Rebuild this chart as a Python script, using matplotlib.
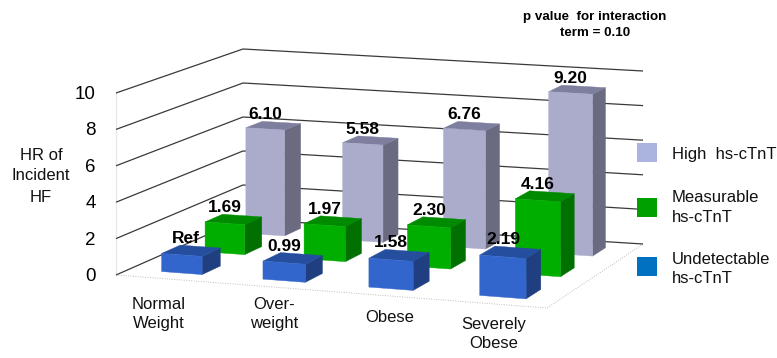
import numpy as np
import matplotlib
matplotlib.use("Agg")
import matplotlib.pyplot as plt
from matplotlib.patches import Polygon, Rectangle

plt.rcParams['font.family'] = ['Liberation Sans', 'DejaVu Sans']

categories = ["Normal\nWeight", "Over-\nweight", "Obese", "Severely\nObese"]
category_xy = [(159, 314), (274, 314), (390, 318), (494, 334)]
series_names = ["Undetectable\nhs-cTnT", "Measurable\nhs-cTnT", "High  hs-cTnT"]
undetectable = [1.00, 0.99, 1.58, 2.19]
measurable = [1.69, 1.97, 2.30, 4.16]
high = [6.10, 5.58, 6.76, 9.20]
undetectable_labels = ["Ref", "0.99", "1.58", "2.19"]
measurable_labels = ["1.69", "1.97", "2.30", "4.16"]
high_labels = ["6.10", "5.58", "6.76", "9.20"]
y_ticks = [0, 2, 4, 6, 8, 10]

# (front, top, side) shades for each depth row, front row first
row_colors = [("#3366CC", "#264E9E", "#1F3F80"),
              ("#00AE00", "#008A00", "#007000"),
              ("#ABABCC", "#7E7E9E", "#6A6A80")]
legend_colors = ["#0070C0", "#00A000", "#AAB4DE"]
rows = [(undetectable, undetectable_labels),
        (measurable, measurable_labels),
        (high, high_labels)]

# Floor corners in pixels: front-left, front-right, back-right, back-left
floor_px = np.array([(116, 275), (547, 308), (643, 244), (243, 219)], float)
floor_uv = np.array([(0, 0), (4, 0), (4, 3), (0, 3)], float)
# Pixels per value unit at the same four corners
corner_scale = (18.2, 18.6, 17.3, 17.0)


def fit_homography(src, dst):
    a, b = [], []
    for (u, v), (x, y) in zip(src, dst):
        a.append([u, v, 1, 0, 0, 0, -u * x, -v * x])
        b.append(x)
        a.append([0, 0, 0, u, v, 1, -u * y, -v * y])
        b.append(y)
    h = np.linalg.solve(np.array(a), np.array(b))
    return np.append(h, 1).reshape(3, 3)


H = fit_homography(floor_uv, floor_px)


def project(u, d, z=0.0):
    """Map category position u, depth d and value z to pixel coordinates."""
    px, py, w = H @ np.array([u, d, 1.0])
    fu, fd = u / 4, d / 3
    s = (corner_scale[0] * (1 - fu) * (1 - fd) + corner_scale[1] * fu * (1 - fd)
         + corner_scale[2] * fu * fd + corner_scale[3] * (1 - fu) * fd)
    return px / w, py / w - s * z


fig = plt.figure(figsize=(7.77, 3.58), dpi=100)
ax = fig.add_axes([0, 0, 1, 1])
ax.set_xlim(0, 777)
ax.set_ylim(358, 0)
ax.axis("off")

# Walls: gridlines run across the left wall and the back wall
for t in y_ticks:
    pts = [project(0, 0, t), project(0, 3, t), project(4, 3, t)]
    ax.plot(*zip(*pts), color="#3a3a3a", lw=0.9, zorder=1, solid_capstyle="butt")
    fx, fy = project(0, 0, t)
    ax.text(fx - 20, fy + 1.5, str(t), ha="right", va="center", fontsize=13.5, color="#000000")
ax.plot(*zip(project(0, 0, 0), project(0, 0, 10)), color="#e6e6e6", lw=0.8, zorder=0.5)

# Floor outline
floor_edges = [project(0, 0), project(4, 0), project(4, 3)]
ax.plot(*zip(*floor_edges), color="#bdbdbd", lw=0.7, ls=(0, (1, 1.5)), zorder=0.8)

# Bars are painted back to front so nearer ones cover farther ones
bar_w = 0.405
bar_d = 0.42
texts = []
z = 2
for row in (2, 1, 0):
    values, labels = rows[row]
    front_c, top_c, side_c = row_colors[row]
    d0 = row + 0.5 - bar_d / 2
    d1 = d0 + bar_d
    for i, (val, lab) in enumerate(zip(values, labels)):
        u0 = i + 0.53 - bar_w / 2
        u1 = u0 + bar_w
        side = [project(u1, d0, 0), project(u1, d1, 0), project(u1, d1, val), project(u1, d0, val)]
        top = [project(u0, d0, val), project(u1, d0, val), project(u1, d1, val), project(u0, d1, val)]
        front = [project(u0, d0, 0), project(u1, d0, 0), project(u1, d0, val), project(u0, d0, val)]
        ax.add_patch(Polygon(side, closed=True, fc=side_c, ec=side_c, lw=0.3, zorder=z))
        ax.add_patch(Polygon(top, closed=True, fc=top_c, ec=top_c, lw=0.3, zorder=z))
        ax.add_patch(Polygon(front, closed=True, fc=front_c, ec=front_c, lw=0.3, zorder=z))
        z += 1
        cx = (front[2][0] + front[3][0]) / 2
        ty = (top[2][1] + top[3][1]) / 2
        texts.append((cx + (4 if lab == "Ref" else 0), ty - 8, lab))

for cx, cy, lab in texts:
    ax.text(cx, cy, lab, ha="center", va="center", fontsize=12.5, fontweight="bold",
            color="#000000", zorder=100)

# Category labels
for name, (x, y) in zip(categories, category_xy):
    ax.text(x, y, name, ha="center", va="center", fontsize=12, color="#111111",
            linespacing=1.35)

# Vertical axis title and the note above the plot
ax.text(41, 176, "HR of\nIncident\nHF", ha="center", va="center", fontsize=12,
        color="#111111", linespacing=1.5)
ax.text(595, 25, "p value  for interaction\nterm = 0.10", ha="center", va="center",
        fontsize=9.6, fontweight="bold", color="#000000", linespacing=1.45)

# Legend drawn by hand, high series on top
legend_y = [266, 207, 152.5]
legend_text_y = [269, 207.5, 154]
for name, color, sy, ty in zip(series_names, legend_colors, legend_y, legend_text_y):
    ax.add_patch(Rectangle((637, sy - 9.5), 20, 19, fc=color, ec="none", zorder=5))
    ax.text(672, ty, name, ha="left", va="center", fontsize=12, color="#111111",
            linespacing=1.35)

fig.savefig("out.png", dpi=100)
